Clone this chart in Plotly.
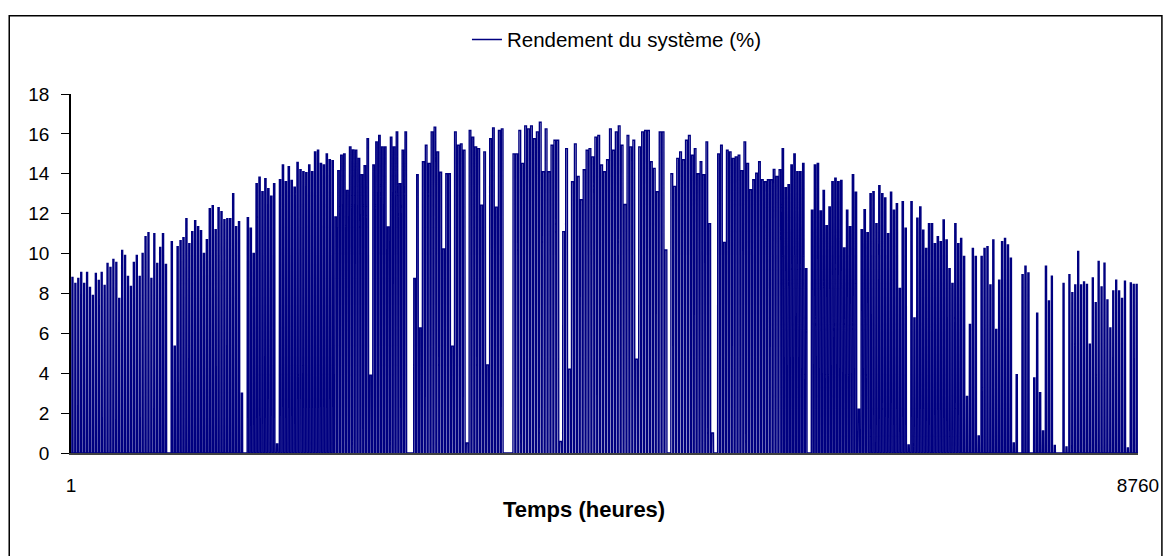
import numpy as np
import plotly.graph_objects as go

# Daily peak system efficiency (%), day 1 .. day 365
daily_peak = [
    8.8, 8.5, 8.75, 9.05, 8.5, 9.05, 8.3, 7.9, 9.0, 8.65,
    9.05, 8.4, 9.5, 9.3, 9.7, 9.55, 7.75, 10.15, 9.9, 8.85,
    8.35, 9.55, 9.9, 8.85, 10.0, 10.85, 11.05, 8.75, 11.0, 9.5,
    10.3, 11.0, 9.45, 0.0, 10.6, 5.35, 10.35, 10.65, 10.8, 11.75,
    10.5, 11.1, 11.65, 11.35, 11.15, 10.0, 10.7, 12.25, 12.4, 11.2,
    12.3, 12.1, 11.7, 11.75, 11.75, 13.0, 11.35, 11.6, 3.0, 0.0,
    11.8, 11.27, 10.0, 13.5, 13.83, 13.1, 13.75, 13.25, 12.87, 13.5,
    0.45, 13.7, 14.44, 13.6, 14.36, 13.66, 13.33, 14.57, 14.2, 14.1,
    14.06, 14.44, 14.1, 15.1, 15.18, 14.52, 14.44, 15.0, 14.7, 14.65,
    11.83, 14.16, 14.93, 15.0, 13.17, 15.35, 15.2, 15.18, 14.77, 13.95,
    14.4, 15.76, 3.9, 14.44, 15.6, 15.92, 15.35, 15.35, 11.34, 15.84,
    15.35, 16.1, 13.5, 15.18, 16.1, 0.0, 0.0, 8.75, 13.95, 6.27,
    14.6, 15.43, 14.52, 16.1, 16.34, 15.1, 14.08, 10.23, 14.0, 14.0,
    5.36, 16.1, 15.43, 15.5, 15.18, 0.5, 16.17, 15.84, 15.35, 15.26,
    12.43, 15.1, 4.42, 15.76, 16.3, 12.33, 16.17, 16.25, 0.0, 0.0,
    0.0, 15.0, 15.0, 16.17, 14.52, 16.4, 16.25, 16.4, 15.76, 16.1,
    16.58, 14.1, 16.25, 14.1, 15.43, 15.68, 15.68, 0.58, 11.1, 15.26,
    4.2, 13.6, 15.5, 13.86, 12.7, 14.2, 15.18, 15.26, 14.85, 15.84,
    15.92, 14.44, 14.1, 14.7, 16.25, 15.18, 16.1, 16.4, 15.43, 12.46,
    15.92, 15.35, 15.68, 4.7, 15.35, 16.1, 16.17, 16.17, 14.6, 14.27,
    13.1, 16.1, 16.1, 10.18, 0.0, 14.0, 13.37, 14.77, 15.1, 14.7,
    15.68, 15.92, 14.93, 15.26, 14.0, 14.6, 13.95, 15.6, 11.5, 1.0,
    0.0, 15.0, 15.43, 10.56, 15.18, 15.1, 14.77, 14.85, 14.93, 14.16,
    15.6, 14.52, 13.2, 13.7, 14.03, 14.6, 13.7, 13.6, 13.7, 13.7,
    14.22, 13.86, 14.2, 15.26, 13.3, 13.45, 14.44, 15.0, 14.1, 14.1,
    14.52, 9.24, 0.0, 12.18, 14.44, 14.52, 12.13, 13.17, 11.4, 12.34,
    13.6, 13.78, 13.6, 13.66, 10.28, 12.18, 11.35, 13.95, 13.08, 2.2,
    11.2, 12.2, 11.05, 13.0, 13.1, 11.5, 13.4, 13.0, 12.79, 11.0,
    13.08, 12.18, 12.5, 8.25, 12.6, 11.27, 0.4, 12.6, 6.77, 11.77,
    12.34, 11.17, 10.26, 11.5, 11.5, 10.5, 10.84, 10.6, 11.68, 10.68,
    9.24, 8.5, 11.5, 10.5, 10.76, 9.85, 2.84, 6.44, 10.26, 9.85,
    0.86, 9.85, 10.26, 10.35, 8.42, 10.68, 6.19, 8.66, 10.6, 10.76,
    10.43, 9.77, 0.5, 3.93, 0.0, 8.94, 9.36, 9.03, 0.0, 3.76,
    7.01, 3.02, 1.1, 9.36, 7.62, 8.86, 0.38, 0.0, 0.0, 8.5,
    0.3, 8.94, 8.04, 8.42, 10.1, 8.42, 8.58, 8.45, 5.45, 8.78,
    7.54, 9.6, 8.33, 9.52, 7.67, 6.27, 8.12, 8.66, 8.12, 7.75,
    8.61, 0.25, 8.53, 8.45, 8.45,
]

# Approximate hours of daylight per month (daytime window of the hourly series)
month_days = [31, 28, 31, 30, 31, 30, 31, 31, 30, 31, 30, 31]
month_daylight = [9, 10, 11, 13, 14, 15, 15, 14, 12, 11, 10, 9]

x_ticks = [1, 8760]
x_tick_text = ["1", "8760"]
y_ticks = [0, 2, 4, 6, 8, 10, 12, 14, 16, 18]

# Build the hourly series (8760 h): efficiency during daylight hours, 0 at night
daylight = np.repeat(month_daylight, month_days)
hourly = []
for d, peak in enumerate(daily_peak):
    n = int(daylight[d])
    start = 12 - n // 2
    for h in range(24):
        hourly.append(peak if start <= h < start + n else 0.0)
hours = np.arange(1, len(hourly) + 1)

fig = go.Figure()
fig.add_trace(go.Scatter(
    x=hours, y=hourly, mode="lines",
    name="Rendement du système (%)",
    line=dict(color="#000080", width=1.4),
))

# page has an 8px body margin: figure placed at (8, 8) of the window
OFF = 8
W, H = 1171 - OFF, 556 - OFF
ml, mr, mt, mb = 71 - OFF, 29, 90 - OFF, 103
pw, ph = W - ml - mr, H - mt - mb

def px_x(p):
    return (p - OFF - ml) / pw

def px_y(p):
    return (H - mb - (p - OFF)) / ph

fig.add_shape(type="rect", xref="paper", yref="paper",
              x0=px_x(9), x1=px_x(1166), y0=px_y(558), y1=px_y(11),
              line=dict(color="black", width=1.5), fillcolor="rgba(0,0,0,0)",
              layer="below")

fig.add_annotation(text="<b>Temps (heures)</b>", xref="paper", yref="paper",
                   x=px_x(586), y=px_y(510), xanchor="center", yanchor="middle",
                   showarrow=False, font=dict(size=22, color="black"))

fig.update_layout(
    width=W, height=H,
    margin=dict(l=ml, r=mr, t=mt, b=mb),
    paper_bgcolor="white", plot_bgcolor="white",
    font=dict(family="Liberation Sans, Arial, sans-serif", size=19, color="black"),
    showlegend=True,
    legend=dict(orientation="h", x=px_x(619), xanchor="center",
                y=px_y(35), yanchor="middle", font=dict(size=20.5),
                bgcolor="rgba(0,0,0,0)"),
    xaxis=dict(range=[1, 8760], tickvals=x_ticks, ticktext=x_tick_text,
               ticks="", showgrid=False, zeroline=False,
               showline=True, linecolor="#404040", linewidth=1.5,
               ticklabelstandoff=14),
    yaxis=dict(range=[0, 18], tickvals=y_ticks, ticks="outside", ticklen=8,
               tickcolor="black", showgrid=False, zeroline=False,
               showline=True, linecolor="black", linewidth=1.5,
               ticklabelstandoff=8),
)

fig.write_html("out.html")
